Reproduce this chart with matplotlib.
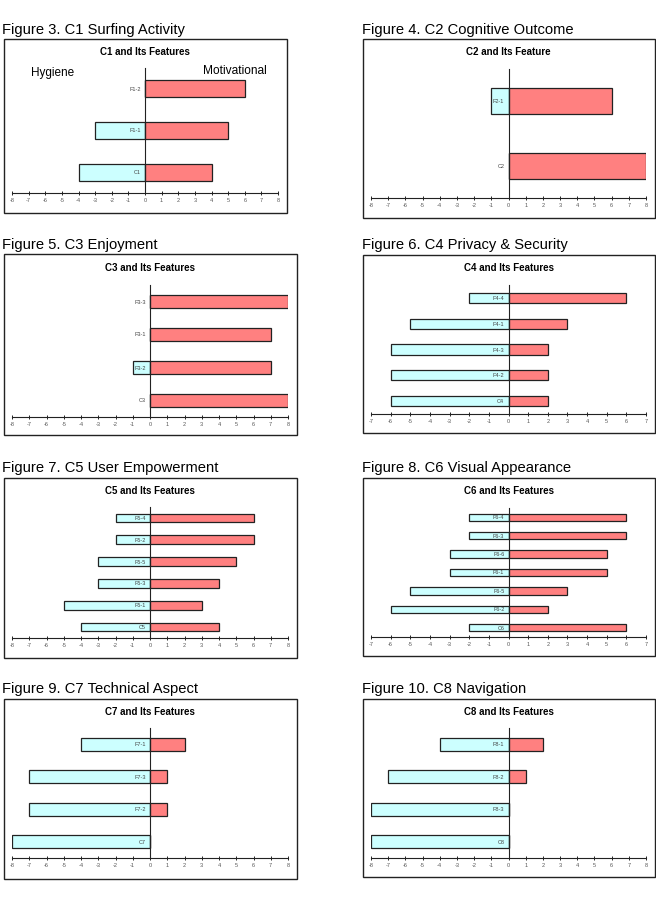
import matplotlib
matplotlib.use("Agg")
import matplotlib.pyplot as plt
from matplotlib.patches import Rectangle

plt.rcParams['font.family'] = ['Liberation Sans', 'DejaVu Sans']
plt.rcParams['axes.unicode_minus'] = False

# data: categories listed bottom -> top
captions = ["Figure 3. C1 Surfing Activity", "Figure 4. C2 Cognitive Outcome",
            "Figure 5. C3 Enjoyment", "Figure 6. C4 Privacy & Security",
            "Figure 7. C5 User Empowerment", "Figure 8. C6 Visual Appearance",
            "Figure 9. C7 Technical Aspect", "Figure 10. C8 Navigation"]
titles = ["C1 and Its Features", "C2 and Its Feature", "C3 and Its Features",
          "C4 and Its Features", "C5 and Its Features", "C6 and Its Features",
          "C7 and Its Features", "C8 and Its Features"]

c1_labels = ["C1", "F1-1", "F1-2"]
c1_hyg = [-4, -3, 0]
c1_mot = [4, 5, 6]

c2_labels = ["C2", "F2-1"]
c2_hyg = [0, -1]
c2_mot = [8, 6]

c3_labels = ["C3", "F3-2", "F3-1", "F3-3"]
c3_hyg = [0, -1, 0, 0]
c3_mot = [8, 7, 7, 8]

c4_labels = ["C4", "F4-2", "F4-3", "F4-1", "F4-4"]
c4_hyg = [-6, -6, -6, -5, -2]
c4_mot = [2, 2, 2, 3, 6]

c5_labels = ["C5", "F5-1", "F5-3", "F5-5", "F5-2", "F5-4"]
c5_hyg = [-4, -5, -3, -3, -2, -2]
c5_mot = [4, 3, 4, 5, 6, 6]

c6_labels = ["C6", "F6-2", "F6-5", "F6-1", "F6-6", "F6-3", "F6-4"]
c6_hyg = [-2, -6, -5, -3, -3, -2, -2]
c6_mot = [6, 2, 3, 5, 5, 6, 6]

c7_labels = ["C7", "F7-2", "F7-3", "F7-1"]
c7_hyg = [-8, -7, -7, -4]
c7_mot = [0, 1, 1, 2]

c8_labels = ["C8", "F8-3", "F8-2", "F8-1"]
c8_hyg = [-8, -8, -7, -4]
c8_mot = [0, 0, 1, 2]

xlims = [8, 8, 8, 7, 8, 7, 8, 8]

W, H = 656, 914
fig = plt.figure(figsize=(W / 100, H / 100), dpi=100)


def fx(x):
    return x / W


def fy(y):
    return 1 - y / H


# pixel layout: box (x0, y0, x1, y1), axes (x0, x1, ytop, yaxis), caption baseline, title baseline
layout = [
    ((4, 39, 287, 213), (12, 278, 68, 193), (2, 34), 55),
    ((363, 39, 655, 218), (371, 646, 69, 198), (362, 34), 55),
    ((4, 254, 297, 435), (12, 288, 285, 417), (2, 249), 271),
    ((363, 255, 655, 433), (371, 646, 285, 414), (362, 249), 271),
    ((4, 478, 297, 658), (12, 288, 507, 638), (2, 472), 494),
    ((363, 478, 655, 656), (371, 646, 508, 637), (362, 472), 494),
    ((4, 699, 297, 879), (12, 288, 728, 858), (2, 693), 715),
    ((363, 699, 655, 877), (371, 646, 728, 858), (362, 693), 715),
]

panels = [(c1_labels, c1_hyg, c1_mot), (c2_labels, c2_hyg, c2_mot),
          (c3_labels, c3_hyg, c3_mot), (c4_labels, c4_hyg, c4_mot),
          (c5_labels, c5_hyg, c5_mot), (c6_labels, c6_hyg, c6_mot),
          (c7_labels, c7_hyg, c7_mot), (c8_labels, c8_hyg, c8_mot)]

for i, (labels, hyg, mot) in enumerate(panels):
    box, axr, cap, tty = layout[i]
    bx0, by0, bx1, by1 = box
    fig.patches.append(Rectangle((fx(bx0), fy(by1)), fx(bx1 - bx0), (by1 - by0) / H,
                                 transform=fig.transFigure, fill=False,
                                 edgecolor='#222222', lw=1.0))
    fig.text(fx(cap[0]), fy(cap[1]), captions[i], fontsize=10.6, va='baseline', ha='left')

    ax0, ax1, ytop, yax = axr
    ax = fig.add_axes([fx(ax0), fy(yax), fx(ax1 - ax0), (yax - ytop) / H])
    fig.text(fx((ax0 + ax1) / 2), fy(tty), titles[i], fontsize=7, fontweight='bold',
             ha='center', va='baseline')

    pos = list(range(len(labels)))
    ax.barh(pos, hyg, height=0.4, color='#ccffff', edgecolor='#222222', lw=0.9)
    ax.barh(pos, mot, height=0.4, color='#ff8080', edgecolor='#222222', lw=0.9)

    lim = xlims[i]
    ax.set_xlim(-lim, lim)
    ax.set_ylim(-0.5, len(labels) - 0.5)
    ax.set_xticks(range(-lim, lim + 1))
    ax.set_yticks(pos)
    ax.set_yticklabels(labels)
    ax.spines['left'].set_position(('data', 0))
    ax.spines['left'].set_color('#222222')
    ax.spines['bottom'].set_color('#222222')
    ax.spines['top'].set_visible(False)
    ax.spines['right'].set_visible(False)
    ax.tick_params(axis='y', length=0, pad=3, labelsize=4, labelcolor='#444444')
    ax.tick_params(axis='x', direction='inout', length=3, width=0.6, pad=2,
                   labelsize=4, labelcolor='#555555')
    ax.set_facecolor('none')

# legend-like words in the first panel
fig.text(fx(53), fy(76), "Hygiene", fontsize=8.5, ha='center', va='baseline')
fig.text(fx(235), fy(74), "Motivational", fontsize=8.6, ha='center', va='baseline')

fig.savefig("out.png", dpi=100)
